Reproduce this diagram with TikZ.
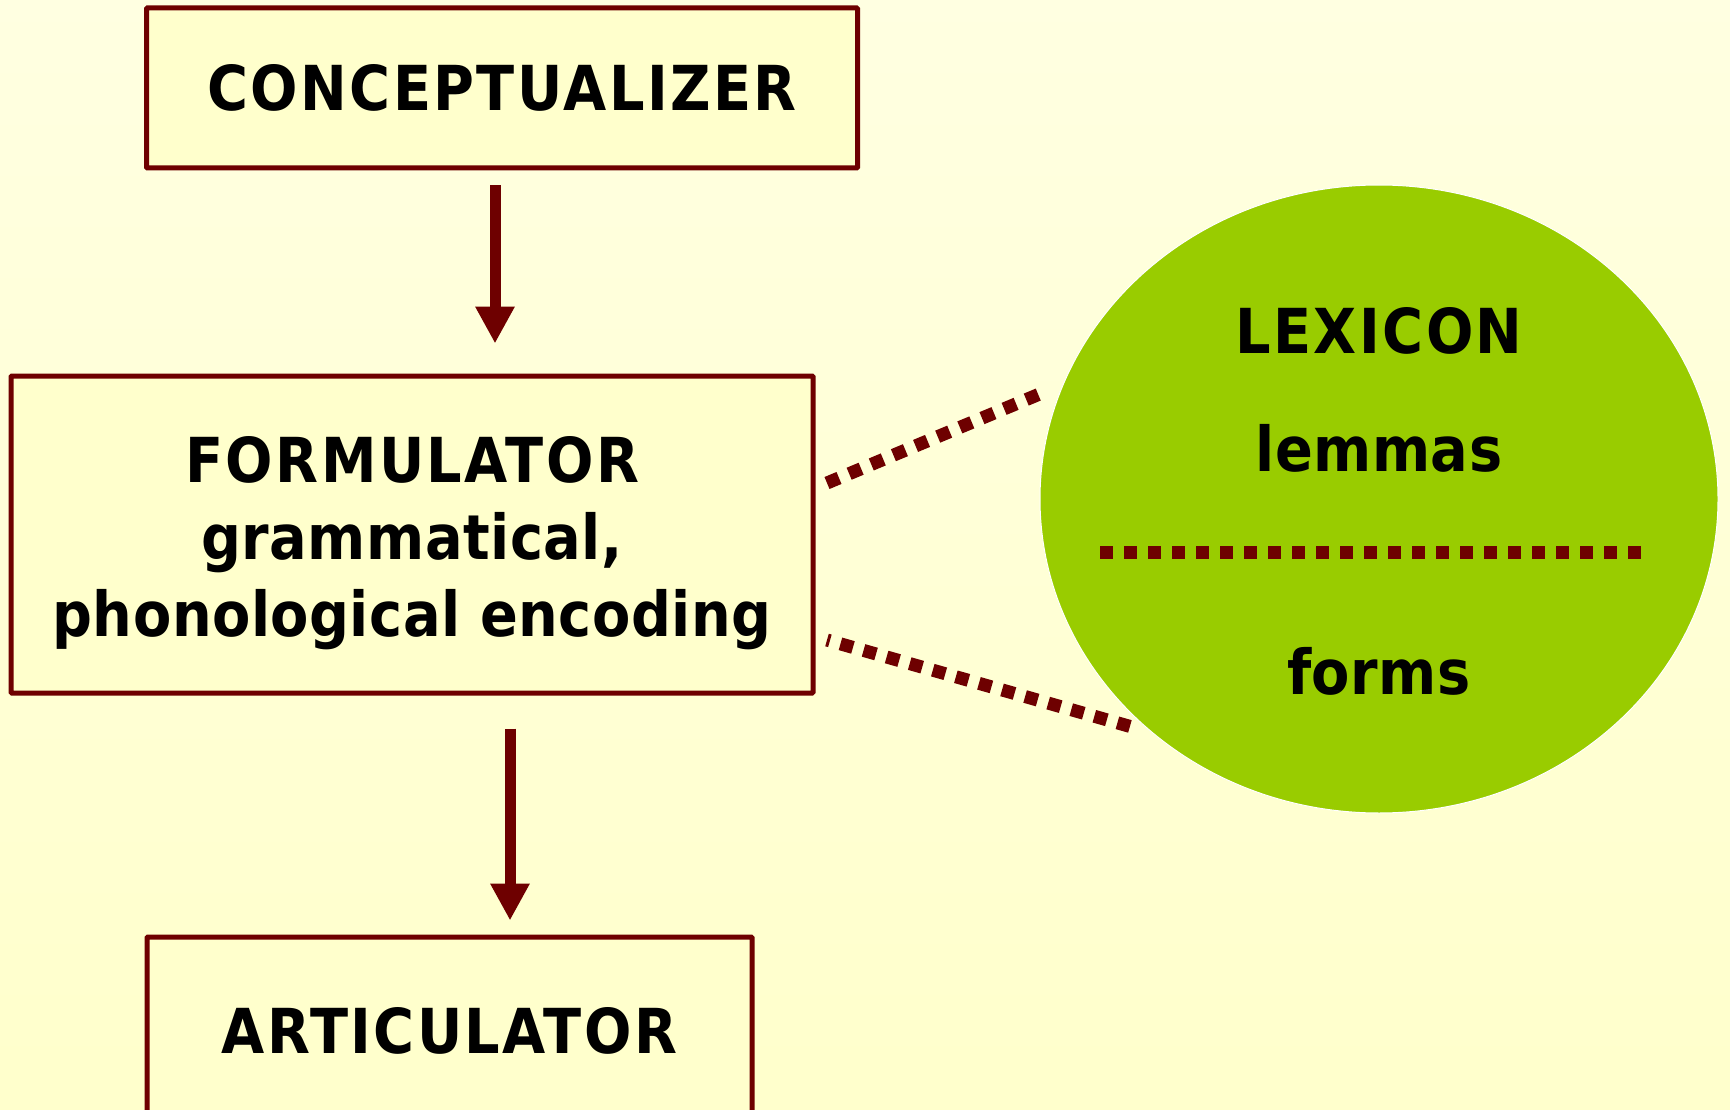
\documentclass[tikz,border=0pt]{standalone}
\usepackage{fontspec}
\setmainfont{DejaVu Sans Condensed}
\usetikzlibrary{arrows.meta,shapes.geometric}
\definecolor{bgyellow}{HTML}{FFFFCC}
\definecolor{darkred}{HTML}{6E0000}
\definecolor{lexgreen}{HTML}{99CC00}
\newcommand{\capsfont}{\fontsize{62}{77}\selectfont\bfseries\addfontfeature{LetterSpace=4}}
\newcommand{\smallsfont}{\fontsize{62}{77}\selectfont\bfseries\addfontfeature{LetterSpace=0.8}}
\begin{document}
\begin{tikzpicture}[x=1pt, y=-1pt,
		stage/.style={draw=darkred, line width=5pt, rounded corners=1pt, fill=bgyellow,
			font=\capsfont, align=center, inner sep=0pt},
		flow/.style={draw=darkred, line width=11pt, -{Triangle[length=37pt, width=37pt]}},
		link/.style={draw=darkred, line width=13pt, dash pattern=on 13pt off 11pt},
		lextext/.style={font=\smallsfont, inner sep=0pt}]
	\clip (0,0) rectangle (1730,1110);
	\shade[shading=axis, shading angle=-35, top color=white!85!bgyellow, bottom color=bgyellow]
		(0,0) rectangle (1730,1110);
	\fill[bgyellow, opacity=0.5] (0,0) rectangle (1730,1110);
	% processing stages
	\node[stage, minimum width=711pt, minimum height=160pt] (concept) at (502,88) {CONCEPTUALIZER};
	\node[stage, minimum width=802pt, minimum height=317pt] (formul) at (412,534.5)
		{\rule{0pt}{63pt}FORMULATOR\\{\smallsfont grammatical,}\\{\smallsfont phonological encoding}};
	\node[stage, minimum width=605pt, minimum height=188pt] (artic) at (449.5,1031) {ARTICULATOR};
	\draw[flow, shorten <=15pt, shorten >=30pt] (concept.south -| 495,0) -- (formul.north -| 495,0);
	\draw[flow, shorten <=33pt, shorten >=14pt] (formul.south -| 510,0) -- (artic.north -| 510,0);
	% lexicon
	\node[ellipse, fill=lexgreen, draw=white, line width=1pt, minimum width=678pt, minimum height=628pt] (lex) at (1379,499) {};
	\node[lextext, font=\capsfont] (lexname) at (1379,331) {LEXICON};
	\node[lextext] (lemmas) at (1379,448) {lemmas};
	\node[lextext] (forms) at (1379,671) {forms};
	\coordinate (splitl) at (1100,552);
	\coordinate (splitr) at (1641,552);
	\draw[link] (splitl) -- (splitr);
	\coordinate (lemstart) at (827,483);
	\coordinate (lemend) at (1042,393);
	\coordinate (formstart) at (827,640);
	\coordinate (formend) at (1132,727);
	\draw[link] (lemstart) -- (lemend);
	\draw[link, dash phase=10pt] (formstart) -- (formend);
\end{tikzpicture}
\end{document}
